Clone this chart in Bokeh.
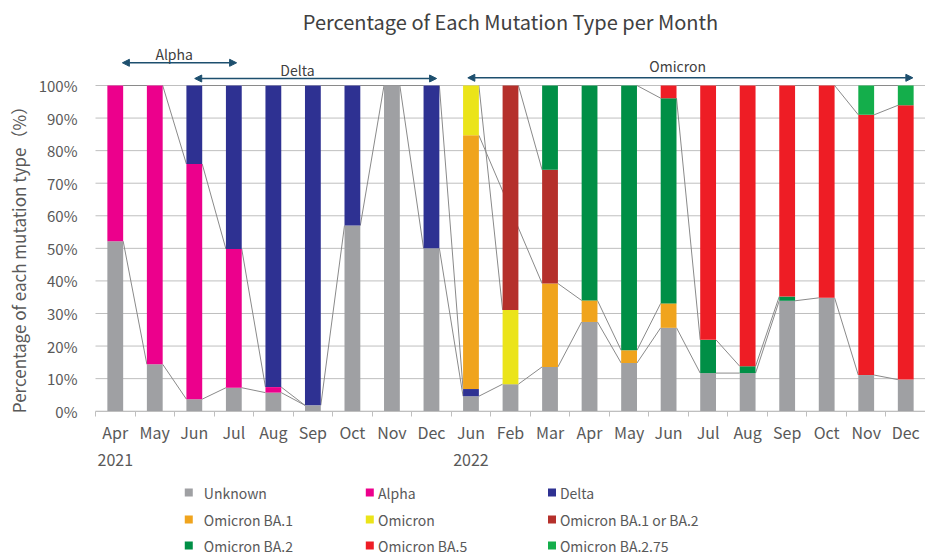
import math
from bokeh.plotting import figure
from bokeh.models import Range1d, FixedTicker, Arrow, NormalHead, ColumnDataSource
from bokeh.core.properties import value
from bokeh.embed import file_html
from bokeh.resources import INLINE

FONT = "Noto Sans CJK JP"
TEXT_COLOR = "#595959"

# ---------------- data ----------------
months = ["Apr", "May", "Jun", "Jul", "Aug", "Sep", "Oct", "Nov", "Dec",
          "Jun", "Feb", "Mar", "Apr", "May", "Jun", "Jul", "Aug", "Sep", "Oct", "Nov", "Dec"]
year_marks = {0: "2021", 9: "2022"}

series_names = ["Unknown", "Alpha", "Delta", "Omicron BA.1", "Omicron",
                "Omicron BA.1 or BA.2", "Omicron BA.2", "Omicron BA.5", "Omicron BA.2.75"]
series_colors = ["#9fa0a3", "#ec008c", "#2e3192", "#f0a41d", "#ebe419",
                 "#b5302b", "#008f46", "#ee1d25", "#14ae4b"]

N = None
unknown = [52.2, 14.4, 3.7, 7.2, 5.7, 1.8, 57.0, 100.0, 50.0, 4.6, 8.3, 13.6, 27.4, 14.8, 25.6, 11.7, 11.7, 33.9, 34.8, 11.1, 9.7]
alpha   = [47.8, 85.6, 72.2, 42.6, 1.7, 0.0, N, N, N, N, N, N, N, N, N, N, N, N, N, N, N]
delta   = [N, N, 24.1, 50.2, 92.6, 98.2, 43.0, N, 50.0, 2.2, N, N, N, N, N, N, N, N, N, N, N]
ba1     = [N, N, N, N, N, N, N, N, N, 77.9, N, 25.6, 6.6, 3.9, 7.5, N, N, N, N, N, N]
omicron = [N, N, N, N, N, N, N, N, N, 15.3, 22.8, N, N, N, N, N, N, N, N, N, N]
ba1_or_ba2 = [N, N, N, N, N, N, N, N, N, N, 68.9, 34.9, N, N, N, N, N, N, N, N, N]
ba2     = [N, N, N, N, N, N, N, N, N, N, N, 25.9, 66.0, 81.3, 63.0, 10.2, 2.1, 1.3, N, N, N]
ba5     = [N, N, N, N, N, N, N, N, N, N, N, N, N, N, 3.9, 78.1, 86.2, 64.8, 65.2, 79.9, 84.2]
ba275   = [N, N, N, N, N, N, N, N, N, N, N, N, N, N, N, N, N, N, N, 9.0, 6.1]

series = [unknown, alpha, delta, ba1, omicron, ba1_or_ba2, ba2, ba5, ba275]

eras = ["Alpha", "Delta", "Omicron"]
era_from = [0, 2, 9]
era_to = [3, 8, 20]

y_ticks = [0, 10, 20, 30, 40, 50, 60, 70, 80, 90, 100]

# ---------------- layout helpers ----------------
n = len(months)
BAR_W = 0.4
W, H = 925, 555
LEFT = 95                    # pixel column where the category band starts
ZERO_ROW = 410.7             # pixel row of 0 %
PX_PER_UNIT = 3.257          # vertical pixels per percentage point
PX_PER_CAT = (W - LEFT) / n
x_lo = -0.5 - LEFT / PX_PER_CAT
y_top = ZERO_ROW / PX_PER_UNIT
y_bot = -(H - ZERO_ROW) / PX_PER_UNIT

def yv(row):
    return (ZERO_ROW - row) / PX_PER_UNIT

def xv(col):
    return x_lo + col / PX_PER_CAT

p = figure(width=W, height=H, output_backend="svg", toolbar_location=None,
           x_range=Range1d(x_lo, n - 0.5), y_range=Range1d(y_bot, y_top),
           min_border_left=0, min_border_right=0, min_border_top=0, min_border_bottom=0)
p.outline_line_color = None
p.background_fill_color = "white"
p.border_fill_color = "white"
p.xgrid.visible = False
p.ygrid.visible = False

# horizontal gridlines across the category band only
p.segment(x0=[-0.5] * len(y_ticks), y0=y_ticks, x1=[n - 0.5] * len(y_ticks), y1=y_ticks,
          line_color="#bfbfbf", line_width=1)

# ---------------- series lines (behind bars) ----------------
keys = [f"s{k}" for k in range(len(series))]
filled = [[0.0 if v is None else v for v in s] for s in series]
tops = []
run = [0.0] * n
for s in filled:
    run = [a + b for a, b in zip(run, s)]
    tops.append(run)

x0, y0, x1, y1 = [], [], [], []
for k, s in enumerate(series):
    idx = [i for i, v in enumerate(s) if v is not None]
    for a, b in zip(idx[:-1], idx[1:]):
        x0.append(a + BAR_W / 2); y0.append(tops[k][a])
        x1.append(b - BAR_W / 2); y1.append(tops[k][b])
p.segment(x0=x0, y0=y0, x1=x1, y1=y1, line_color="#8a8a8a", line_width=1)

# ---------------- stacked bars ----------------
data = {"x": list(range(n))}
for k, s in zip(keys, filled):
    data[k] = s
src = ColumnDataSource(data)
p.vbar_stack(keys, x="x", width=BAR_W, source=src, fill_color=series_colors, line_color=None)

# ---------------- axes ----------------
xa = p.xaxis[0]
xa.ticker = FixedTicker(ticks=list(range(n)), minor_ticks=[i - 0.5 for i in range(n + 1)])
xa.major_label_overrides = {i: (m + "\n" + year_marks[i] if i in year_marks else m)
                            for i, m in enumerate(months)}
xa.fixed_location = 0
xa.bounds = (-0.5, n - 0.5)
xa.axis_line_color = "#bfbfbf"
xa.major_tick_line_color = None
xa.major_tick_out = 0
xa.major_tick_in = 0
xa.minor_tick_line_color = "#bfbfbf"
xa.minor_tick_out = 5
xa.minor_tick_in = 0
xa.major_label_standoff = 4
xa.major_label_text_font = FONT
xa.major_label_text_font_size = "16px"
xa.major_label_text_color = TEXT_COLOR
xa.major_label_text_line_height = 1.1

ya = p.yaxis[0]
ya.ticker = FixedTicker(ticks=y_ticks, minor_ticks=[])
ya.major_label_overrides = {t: f"{t}%" for t in y_ticks}
ya.fixed_location = -0.5
ya.axis_line_color = None
ya.major_tick_line_color = None
ya.minor_tick_line_color = None
ya.major_label_standoff = 12
ya.major_label_text_font = FONT
ya.major_label_text_font_size = "15px"
ya.major_label_text_color = TEXT_COLOR

# y-axis title, centred on the 0-100 % band
p.text(x=[xv(18)], y=[yv(255)], text=["Percentage of each mutation type（%）"],
       angle=math.pi / 2, text_font=value(FONT), text_font_size=value("17px"),
       text_color=TEXT_COLOR, text_align="center", text_baseline="middle")

# ---------------- title ----------------
p.text(x=[(n - 1) / 2], y=[yv(21)], text=["Percentage of Each Mutation Type per Month"],
       text_font=value(FONT), text_font_size=value("20px"), text_color="#404040",
       text_align="center", text_baseline="middle")

# ---------------- era arrows ----------------
ARROW_COLOR = "#1d4f6e"
start_off = [0.18, 0.01, -0.08]
end_off = [0.07, 0.13, 0.18]
arrow_rows = [yv(62.3), yv(78), yv(77.3)]
label_rows = [yv(53.3), yv(69), yv(65)]
label_x = [1.49, 4.61, 14.23]
for k in range(len(eras)):
    p.add_layout(Arrow(
        start=NormalHead(size=7, fill_color=ARROW_COLOR, line_color=ARROW_COLOR),
        end=NormalHead(size=7, fill_color=ARROW_COLOR, line_color=ARROW_COLOR),
        x_start=era_from[k] + start_off[k], y_start=arrow_rows[k],
        x_end=era_to[k] + end_off[k], y_end=arrow_rows[k],
        line_color=ARROW_COLOR, line_width=1.5))
p.text(x=label_x, y=label_rows, text=eras, text_font=value(FONT),
       text_font_size=value("14px"), text_color="#404040",
       text_align="center", text_baseline="middle")

# ---------------- legend (3 x 3 grid) ----------------
col_sq = [1.86, 6.44, 11.05]
col_tx = [2.24, 6.65, 11.25]
row_y = [yv(492), yv(519), yv(545)]
lx, ly, tx = [], [], []
for k, name in enumerate(series_names):
    r, c = divmod(k, 3)
    lx.append(col_sq[c]); ly.append(row_y[r]); tx.append(col_tx[c])
p.scatter(x=lx, y=ly, marker="square", size=8, fill_color=series_colors, line_color=None)
p.text(x=tx, y=ly, text=series_names, text_font=value(FONT), text_font_size=value("14px"),
       text_color=TEXT_COLOR, text_align="left", text_baseline="middle")

open("out.html", "w").write(file_html(p, INLINE))
